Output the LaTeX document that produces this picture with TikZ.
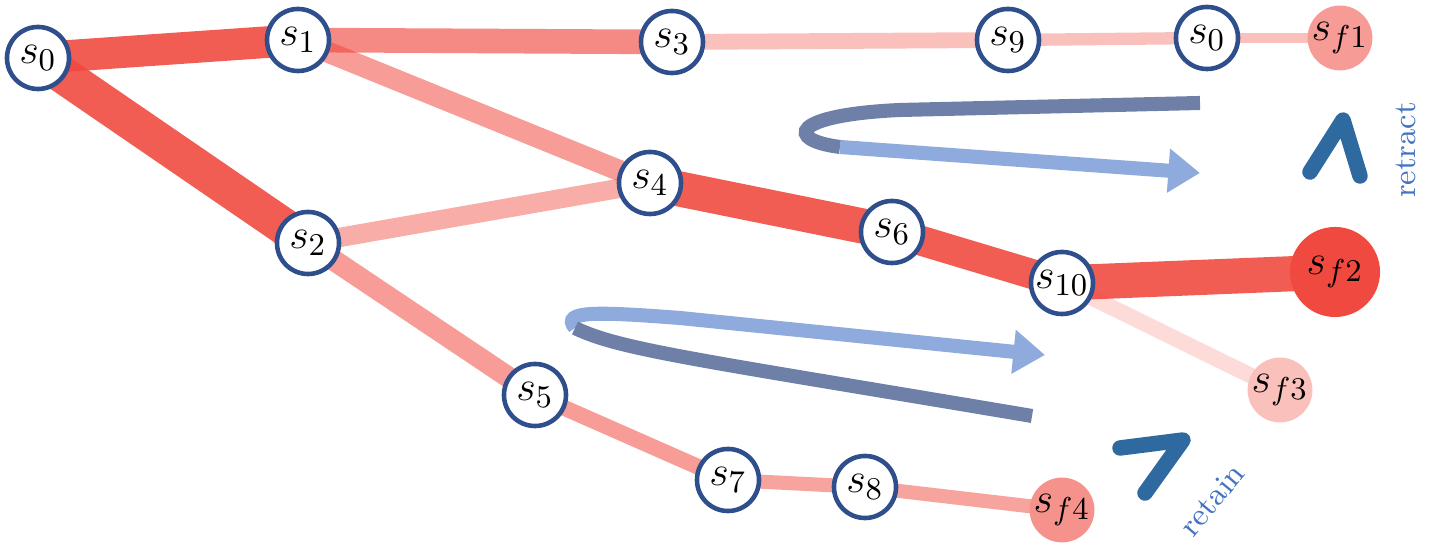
\documentclass[tikz,border=0pt]{standalone}
\usepackage{tikz}
\usetikzlibrary{arrows.meta}
\definecolor{pathred}{HTML}{F04A40}
\definecolor{ringblue}{HTML}{2F4E8C}
\definecolor{loopdark}{HTML}{6F80A8}
\definecolor{looplight}{HTML}{8FAADC}
\definecolor{tickblue}{HTML}{2E6AA0}
\definecolor{wordblue}{HTML}{4472C4}
\tikzset{
  state/.style={circle, draw=ringblue, line width=1.3pt, fill=white, minimum size=0.62cm, inner sep=0pt, font=\fontsize{13}{15}\selectfont},
  goal/.style={circle, fill=pathred!#1!white, inner sep=0pt, font=\fontsize{13}{15}\selectfont},
  edge/.style={line width=#1, pathred},
  loop/.style={line width=4pt, draw=#1},
  tick/.style={line width=4.4pt, tickblue, line cap=round, line join=round},
}
\begin{document}
\begin{tikzpicture}[x=0.01cm, y=-0.01cm]
\useasboundingbox (0,0) rectangle (1436,559);
%
\coordinate (p0) at (38,58);   \coordinate (p1) at (298,40);
\coordinate (p3) at (672,42);  \coordinate (p9) at (1008,40);
\coordinate (p0b) at (1207,38); \coordinate (pf1) at (1340,38);
\coordinate (p4) at (650,183); \coordinate (p2) at (308,243);
\coordinate (p6) at (892,232); \coordinate (p10) at (1062,283);
\coordinate (pf2) at (1335,272); \coordinate (pf3) at (1280,390);
\coordinate (p5) at (535,395); \coordinate (p7) at (728,480);
\coordinate (p8) at (865,487); \coordinate (pf4) at (1062,510);
%
\draw [edge=9pt, opacity=0.9] (p0) -- (p1);
\draw [edge=10.5pt, opacity=0.9] (p0) -- (p2);
\draw [edge=7pt, opacity=0.65] (p1) -- (p3);
\draw [edge=6pt, opacity=0.55] (p1) -- (p4);
\draw [edge=4.5pt, opacity=0.35] (p3) -- (p9);
\draw [edge=3.5pt, opacity=0.35] (p9) -- (p0b);
\draw [edge=3pt, opacity=0.35] (p0b) -- (pf1);
\draw [edge=5.5pt, opacity=0.45] (p2) -- (p4);
\draw [edge=10pt, opacity=0.9] (p4) -- (p6);
\draw [edge=8.5pt, opacity=0.9] (p6) -- (p10);
\draw [edge=10pt, opacity=0.9] (p10) -- (pf2);
\draw [edge=4.5pt, opacity=0.2] (p10) -- (pf3);
\draw [edge=6pt, opacity=0.55] (p2) -- (p5);
\draw [edge=4.5pt, opacity=0.55] (p5) -- (p7);
\draw [edge=4pt, opacity=0.5] (p7) -- (p8);
\draw [edge=4pt, opacity=0.5] (p8) -- (pf4);
%
\node [state] (s0) at (p0) {$s_0$};
\node [state] (s1) at (p1) {$s_1$};
\node [state] (s3) at (p3) {$s_3$};
\node [state] (s9) at (p9) {$s_9$};
\node [state] (s0b) at (p0b) {$s_0$};
\node [state] (s4) at (p4) {$s_4$};
\node [state] (s2) at (p2) {$s_2$};
\node [state] (s6) at (p6) {$s_6$};
\node [state] (s10) at (p10) {$s_{10}$};
\node [state] (s5) at (p5) {$s_5$};
\node [state] (s7) at (p7) {$s_7$};
\node [state] (s8) at (p8) {$s_8$};
\node [goal=55, minimum size=0.5cm] (sf1) at (pf1) {$s_{f1}$};
\node [goal=100, minimum size=0.9cm] (sf2) at (pf2) {$s_{f2}$};
\node [goal=35, minimum size=0.44cm] (sf3) at (pf3) {$s_{f3}$};
\node [goal=60, minimum size=0.56cm] (sf4) at (pf4) {$s_{f4}$};
%
\draw [loop=loopdark] (1200,103) -- (900,110) .. controls (790,115) and (785,140) .. (840,147);
\draw [loop=looplight, -{Triangle[length=9pt, width=12pt]}] (840,147) -- (1200,173);
\draw [loop=looplight, -{Triangle[length=9pt, width=12pt]}] (575,328) .. controls (560,310) and (600,312) .. (680,318) -- (1045,355);
\draw [loop=loopdark] (575,328) .. controls (620,350) and (700,360) .. (1032,416);
%
\draw [tick] (1310,172) -- (1343,120) -- (1360,176);
\draw [tick] (1120,448) -- (1183,440) -- (1145,493);
\node [rotate=90, text=wordblue, font=\small] (retract) at (1406,150) {retract};
\node [rotate=50, text=wordblue, font=\small, inner sep=1pt] (retain) at (1212,500) {retain};
\end{tikzpicture}
\end{document}
